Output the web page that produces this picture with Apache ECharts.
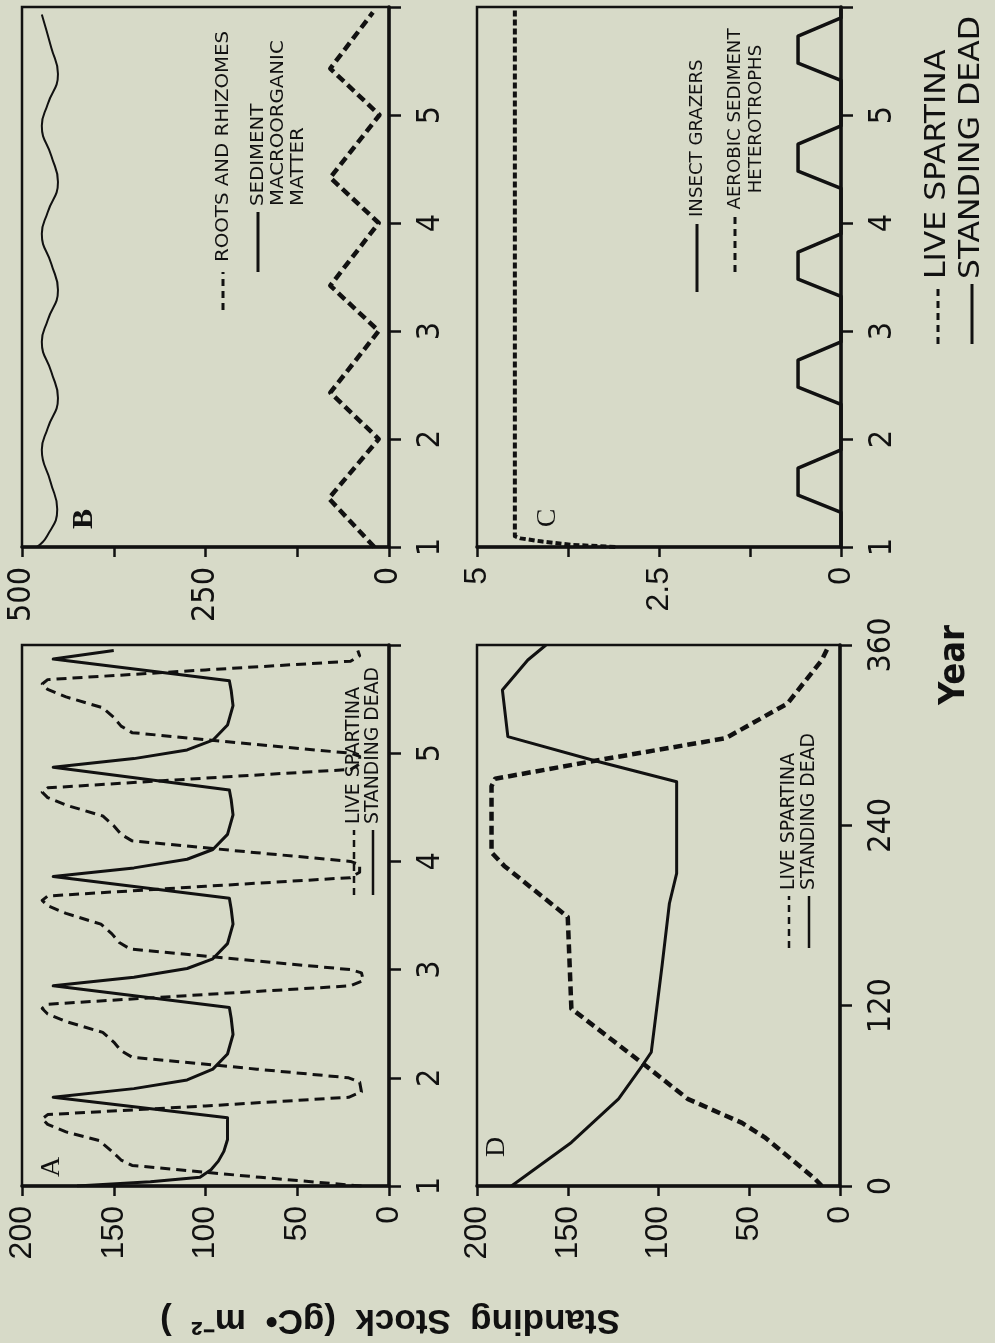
<!DOCTYPE html>
<html><head><meta charset="utf-8">
<script src="https://cdn.jsdelivr.net/npm/echarts@6/dist/echarts.min.js"></script>
<style>html,body{margin:0;padding:0;background:#d7dac8;}#chart{width:995px;height:1343px;}</style>
</head><body><div id="chart"></div>
<script>
// ---------- Panel A: 5-year simulation (years vs standing stock gC m-2)
const aLiveYear = [1.00,1.08,1.19,1.24,1.32,1.42,1.50,1.57,1.62,1.66,1.74,1.82,1.87,1.96,2.00,
  2.08,2.19,2.25,2.33,2.42,2.52,2.59,2.64,2.68,2.77,2.85,2.90,2.97,3.00,
  3.08,3.19,3.25,3.33,3.42,3.52,3.59,3.64,3.68,3.77,3.85,3.90,3.97,4.00,
  4.08,4.19,4.25,4.33,4.42,4.52,4.59,4.64,4.68,4.77,4.85,4.90,4.97,5.00,
  5.08,5.19,5.25,5.33,5.42,5.52,5.59,5.64,5.68,5.77,5.85,5.90,5.95];
const aLiveStock = [15,70,140,146,151,158,176,186,189,186,100,22,15,16,22,
  72,140,146,150,156,176,186,189,186,100,21,14,15,21,
  72,141,147,151,157,176,186,189,186,100,21,16,16,21,
  72,140,146,150,156,176,186,189,186,100,21,16,16,21,
  72,140,146,150,156,176,186,189,186,100,21,16,17];
const aDeadYear = [1.00,1.04,1.08,1.15,1.23,1.32,1.43,1.63,
  1.82,1.90,1.98,2.08,2.22,2.40,2.55,2.65,
  2.85,2.93,3.01,3.10,3.24,3.42,3.56,3.66,
  3.86,3.94,4.02,4.11,4.25,4.43,4.57,4.66,
  4.87,4.95,5.03,5.12,5.26,5.44,5.58,5.67,
  5.87,5.95];
const aDeadStock = [170,130,103,97,93,90,88,88,
  183,139,110,96,88,85,86,87,
  183,139,110,96,88,85,86,87,
  183,139,110,96,88,85,86,87,
  183,139,110,96,88,85,86,87,
  183,150];
// ---------- Panel B
const bRootsYear = [1.00,1.45,2.00,2.43,3.00,3.42,4.00,4.42,5.00,5.43,5.95];
const bRootsStock = [20,82,14,80,14,80,14,80,13,80,22];
const bSedYear = [1.00,1.10,1.35,1.60,1.90,2.10,2.38,2.62,2.90,3.10,3.38,3.62,3.90,4.10,4.38,4.62,4.90,5.10,5.38,5.62,5.93];
const bSedStock = [480,466,452,461,473,465,451,460,473,465,451,460,473,465,451,460,473,465,451,460,473];
// ---------- Panel C
const cGrazYear = [1.00,1.32,1.48,1.73,1.90,2.32,2.48,2.73,2.90,3.32,3.48,3.73,3.90,4.32,4.48,4.73,4.90,5.32,5.48,5.73,5.90,5.98];
const cGrazStock = [0,0,0.59,0.59,0,0,0.59,0.59,0,0,0.59,0.59,0,0,0.59,0.59,0,0,0.59,0.59,0,0];
const cAeroYear = [1.00,1.02,1.05,1.08,1.10,6.00];
const cAeroStock = [3.1,3.7,4.1,4.4,4.48,4.48];
// ---------- Panel D: one year, days 0-360
const dLiveDay = [0,5,32,42,58,80,118,179,213,222,266,271,283,298,321,350,360];
const dLiveStock = [10,14,41,54,84,107,148,150,185,192,192,190,135,63,29,10,6];
const dDeadDay = [0,29,58,80,89,147,188,208,269,283,299,330,350,360];
const dDeadStock = [181,148,122,109,104,98,94,90,90,135,183,186,172,162];
// ---------- tick labels
const yearTicks = ['1','2','3','4','5'];
const dayTicks = ['0','120','240','360'];

const zip = (ys, vs) => ys.map((y, i) => [vs[i], y]);
const COND = "'Liberation Sans Narrow','DejaVu Sans Condensed','Arial Narrow','Liberation Sans',sans-serif";
const SANS = "'Liberation Sans',Arial,Helvetica,sans-serif";
const SERIF = "'Liberation Serif','DejaVu Serif','Times New Roman',serif";
const BLACK = '#111';

const gridBoxes = [
  {left: 22, top: 645, width: 367, height: 541},  // A
  {left: 22, top: 7, width: 367, height: 540},    // B
  {left: 477, top: 7, width: 364, height: 540},   // C
  {left: 477, top: 645, width: 363, height: 541}  // D
];

function valueAxis(gi, max, interval, shown, font) {
  return {
    type: 'value', gridIndex: gi, min: 0, max: max, interval: interval, inverse: true,
    position: 'bottom',
    axisLine: {show: true, onZero: false, lineStyle: {color: BLACK, width: 3.5}},
    axisTick: {show: true, inside: false, length: 10, lineStyle: {color: BLACK, width: 2.5}},
    splitLine: {show: false},
    axisLabel: {rotate: 90, margin: 20, fontSize: 32, fontFamily: font, color: BLACK,
      formatter: v => shown.indexOf(v) >= 0 ? String(v) : ''}
  };
}
function timeAxis(gi, min, max, interval, labels) {
  return {
    type: 'value', gridIndex: gi, min: min, max: max, interval: interval, position: 'right',
    axisLine: {show: true, onZero: false, lineStyle: {color: BLACK, width: 3.5}},
    axisTick: {show: true, inside: false, length: 12, lineStyle: {color: BLACK, width: 2.5}},
    splitLine: {show: false},
    axisLabel: {rotate: 90, margin: 26, fontSize: 32, fontFamily: COND, color: BLACK,
      formatter: v => labels.indexOf(String(v)) >= 0 ? String(v) : ''}
  };
}
function lineSeries(gi, data, dashed, width, dash) {
  return {
    type: 'line', xAxisIndex: gi, yAxisIndex: gi, data: data, showSymbol: false, symbol: 'none',
    clip: true, animation: false, silent: true,
    lineStyle: {color: BLACK, width: width, type: dashed ? dash : 'solid', cap: 'butt', join: 'round'}
  };
}

function vtext(x, y, text, size, font, align, weight, stretch) {
  return {
    type: 'text', x: x, y: y, rotation: Math.PI / 2, scaleX: stretch || 1, silent: true,
    style: {text: text, fill: BLACK, font: (weight || 'normal') + ' ' + size + 'px ' + font,
      align: align || 'left', textAlign: align || 'left', verticalAlign: 'middle', textVerticalAlign: 'middle'}
  };
}
function vline(x, y1, y2, dashed, width) {
  return {type: 'line', silent: true, shape: {x1: x, y1: y1, x2: x, y2: y2},
    style: {stroke: BLACK, lineWidth: width || 3, lineDash: dashed ? [7, 5] : null}};
}

const chart = echarts.init(document.getElementById('chart'), null, {renderer: 'canvas'});
chart.setOption({
  backgroundColor: '#d7dac8',
  animation: false,
  grid: gridBoxes.map(g => Object.assign({show: true, borderColor: BLACK, borderWidth: 2.5,
    backgroundColor: 'transparent', containLabel: false, outerBoundsMode: 'none'}, g)),
  xAxis: [
    valueAxis(0, 200, 50, [0, 50, 100, 150, 200], SANS),
    valueAxis(1, 500, 125, [0, 250, 500], COND),
    valueAxis(2, 5, 1.25, [0, 2.5, 5], SANS),
    valueAxis(3, 200, 50, [0, 50, 100, 150, 200], SANS)
  ],
  yAxis: [
    timeAxis(0, 1, 6, 1, yearTicks),
    timeAxis(1, 1, 6, 1, yearTicks),
    timeAxis(2, 1, 6, 1, yearTicks),
    timeAxis(3, 0, 360, 120, dayTicks)
  ],
  series: [
    lineSeries(0, zip(aLiveYear, aLiveStock), true, 3, [10, 6]),
    lineSeries(0, zip(aDeadYear, aDeadStock), false, 3),
    Object.assign(lineSeries(1, zip(bSedYear, bSedStock), false, 2), {smooth: 0.5}),
    lineSeries(1, zip(bRootsYear, bRootsStock), true, 4.5, [9, 5]),
    lineSeries(2, zip(cGrazYear, cGrazStock), false, 3.5),
    lineSeries(2, zip(cAeroYear, cAeroStock), true, 4, [6, 3]),
    lineSeries(3, zip(dLiveDay, dLiveStock), true, 4.5, [9, 5]),
    lineSeries(3, zip(dDeadDay, dDeadStock), false, 3)
  ],
  graphic: {elements: [
    // panel letters
    vtext(52, 1167, 'A', 28, SERIF, 'center'),
    vtext(84, 519, 'B', 30, SERIF, 'center', 'bold'),
    vtext(548, 518, 'C', 28, SERIF, 'center'),
    vtext(497, 1147, 'D', 28, SERIF, 'center'),
    // panel B legend
    vline(223, 310, 272, true, 3),
    vtext(223, 262, 'ROOTS AND RHIZOMES', 18, COND, 'left', 'normal', 1.22),
    vline(258, 272, 212, false, 3),
    vtext(258, 206, 'SEDIMENT', 18, COND, 'left', 'normal', 1.22),
    vtext(278, 206, 'MACROORGANIC', 18, COND, 'left', 'normal', 1.22),
    vtext(298, 206, 'MATTER', 18, COND, 'left', 'normal', 1.22),
    // panel C legend
    vline(697, 292, 224, false, 3),
    vtext(697, 217, 'INSECT GRAZERS', 18, COND, 'left', 'normal', 1.12),
    vline(735, 272, 212, true, 3),
    vtext(735, 119, 'AEROBIC SEDIMENT', 18, COND, 'center', 'normal', 1.12),
    vtext(756, 119, 'HETEROTROPHS', 18, COND, 'center', 'normal', 1.12),
    // panel A legend
    vline(354, 895, 830, true, 2.5),
    vtext(354, 824, 'LIVE SPARTINA', 19, COND, 'left', 'normal', 1.1),
    vline(373, 895, 830, false, 2.5),
    vtext(373, 824, 'STANDING DEAD', 19, COND, 'left', 'normal', 1.1),
    // panel D legend
    vline(789, 948, 896, true, 2.5),
    vtext(789, 890, 'LIVE SPARTINA', 19, COND, 'left', 'normal', 1.1),
    vline(809, 948, 896, false, 2.5),
    vtext(809, 890, 'STANDING DEAD', 19, COND, 'left', 'normal', 1.1),
    // big legend
    vline(938, 344, 284, true, 3),
    vtext(938, 279, 'LIVE SPARTINA', 28, COND, 'left', 'normal', 1.25),
    vline(972, 344, 284, false, 3),
    vtext(972, 279, 'STANDING DEAD', 28, COND, 'left', 'normal', 1.25),
    // axis titles
    vtext(955, 665, 'Year', 36, COND, 'center', 'bold'),
    {type: 'text', x: 390, y: 1320, rotation: Math.PI, silent: true,
      style: {text: 'Standing  Stock  (gC\u2022  m\u207B\u00B2  )', fill: BLACK, font: 'bold 35px ' + SANS,
        align: 'center', textAlign: 'center', verticalAlign: 'middle', textVerticalAlign: 'middle'}}
  ]}
});
</script></body></html>
